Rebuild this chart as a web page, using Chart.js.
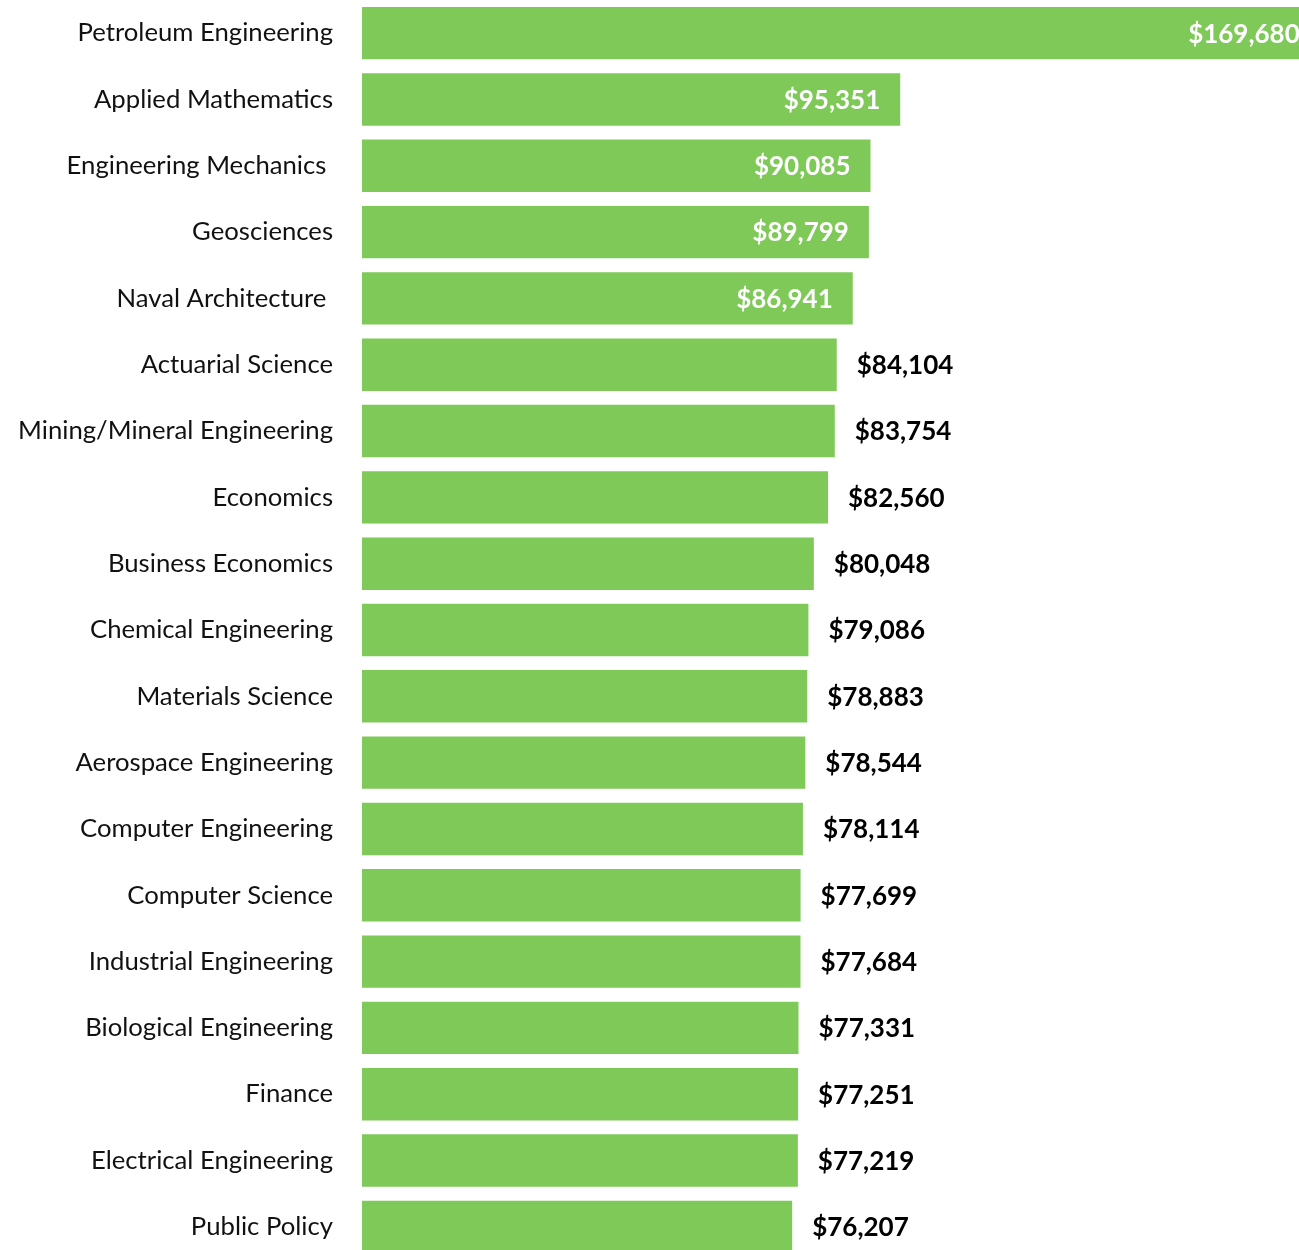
<!DOCTYPE html>
<html>
<head>
<meta charset="utf-8">
<title>Highest-paying majors</title>
<script src="https://cdn.jsdelivr.net/npm/chart.js@4/dist/chart.umd.min.js"></script>
<style>
  html, body { margin: 0; padding: 0; background: #ffffff; overflow: hidden; }
  #wrap { width: 1299px; height: 1250px; overflow: hidden; }
  canvas { display: block; }
</style>
</head>
<body>
<!-- the canvas runs a little past the bottom of the frame, so the last bar is cut -->
<div id="wrap"><canvas id="chart" width="1299" height="1260"></canvas></div>
<script>
// Majors, ordered from highest to lowest median salary
const categories = [
  'Petroleum Engineering',
  'Applied Mathematics',
  'Engineering Mechanics ',
  'Geosciences',
  'Naval Architecture ',
  'Actuarial Science',
  'Mining/Mineral Engineering',
  'Economics',
  'Business Economics',
  'Chemical Engineering',
  'Materials Science',
  'Aerospace Engineering',
  'Computer Engineering',
  'Computer Science',
  'Industrial Engineering',
  'Biological Engineering',
  'Finance',
  'Electrical Engineering',
  'Public Policy'
];

// Median salary in US dollars, one per major
const salaries = [
  169680, 95351, 90085, 89799, 86941, 84104, 83754, 82560, 80048, 79086,
  78883, 78544, 78114, 77699, 77684, 77331, 77251, 77219, 76207
];

// Upper end of the value axis; longer bars run off the right edge
const axisMax = 166000;
// Bars at or above this value carry their label inside, in white
const insideLabelFrom = 85000;

const BAR_GREEN = '#7ec958';
const LABEL_FONT = '700 26px Lato, "Open Sans", sans-serif';

function money(v) {
  return '$' + v.toLocaleString('en-US');
}

// Writes each bar's value at its end: inside for long bars, outside otherwise
const valueLabels = {
  id: 'valueLabels',
  afterDatasetsDraw(chart) {
    const ctx = chart.ctx;
    const meta = chart.getDatasetMeta(0);
    const values = chart.data.datasets[0].data;
    const gap = 20;
    ctx.save();
    ctx.font = LABEL_FONT;
    ctx.textBaseline = 'middle';
    meta.data.forEach((bar, i) => {
      const v = values[i];
      const text = money(v);
      if (v >= insideLabelFrom) {
        ctx.fillStyle = '#ffffff';
        ctx.textAlign = 'right';
        ctx.fillText(text, bar.x - gap, bar.y + 1);
      } else {
        ctx.fillStyle = '#000000';
        ctx.textAlign = 'left';
        ctx.fillText(text, bar.x + gap, bar.y + 1);
      }
    });
    ctx.restore();
  }
};

function draw() {
  new Chart(document.getElementById('chart'), {
    type: 'bar',
    data: {
      labels: categories,
      datasets: [{
        data: salaries,
        backgroundColor: BAR_GREEN,
        borderWidth: 0,
        categoryPercentage: 1,
        barPercentage: 0.79
      }]
    },
    options: {
      indexAxis: 'y',
      responsive: false,
      animation: false,
      layout: { padding: 0 },
      plugins: {
        legend: { display: false },
        tooltip: { enabled: false }
      },
      scales: {
        x: {
          display: false,
          min: 0,
          max: axisMax
        },
        y: {
          grid: { display: false, drawTicks: false },
          border: { display: false },
          ticks: {
            padding: 29,
            color: '#111111',
            font: { family: 'Lato, "Open Sans", sans-serif', size: 25.7, weight: 400 }
          },
          afterFit(scale) {
            // fixed gutter for the names; no extra room above or below the rows
            scale.width = 362;
            scale.paddingTop = 0;
            scale.paddingBottom = 0;
          }
        }
      }
    },
    plugins: [valueLabels]
  });
}

if (document.fonts && document.fonts.load) {
  Promise.all([
    document.fonts.load('26px Lato'),
    document.fonts.load('700 26px Lato')
  ]).then(draw, draw);
} else {
  draw();
}
</script>
</body>
</html>
